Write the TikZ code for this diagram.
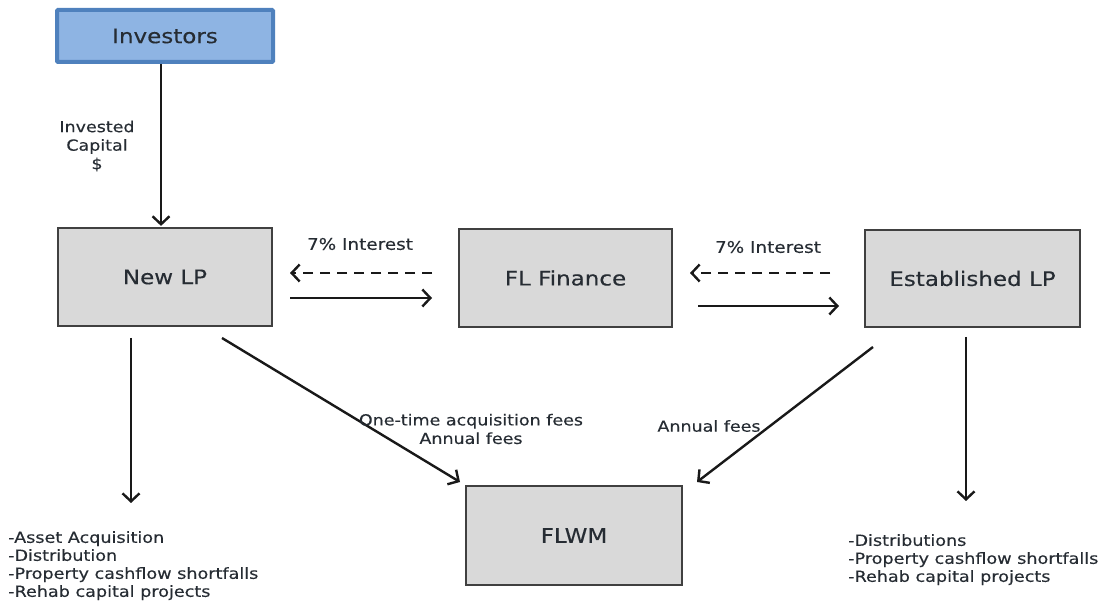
\documentclass[tikz,border=0pt]{standalone}
\usepackage{fontspec}
\setmainfont{DejaVu Sans}[FakeStretch=1.15,FakeBold=0.3]
\usetikzlibrary{arrows.meta}
\definecolor{txt}{HTML}{262C33}
\definecolor{boxfill}{HTML}{D9D9D9}
\definecolor{invfill}{HTML}{8EB4E3}
\definecolor{invdraw}{HTML}{4F81BD}
\begin{document}
\begin{tikzpicture}[x=1pt,y=-1pt,
 box/.style={draw=black!75, line width=1.2pt, fill=boxfill, inner sep=0pt, text=txt, font=\fontsize{20}{24}\selectfont},
 arr/.style={line width=2.4pt, draw=black!90, -{Straight Barb[length=8pt,width=17pt,line width=2.4pt]}},
 dasharr/.style={arr, dash pattern=on 10pt off 7pt},
 lbl/.style={text=txt, font=\fontsize{15.2}{18.5}\selectfont, align=center, inner sep=0pt},
 lst/.style={text=txt, font=\fontsize{15.3}{18}\selectfont, align=left, inner sep=0pt, anchor=north west}]
\useasboundingbox (0,0) rectangle (1101,601);
% boxes
\node[box, fill=invfill, draw=invdraw, line width=4pt, rounded corners=1pt, minimum width=216pt, minimum height=52pt] (inv) at (165,36) {Investors};
\node[box, minimum width=214pt, minimum height=98pt] (newlp) at (165,277) {New LP};
\node[box, minimum width=213pt, minimum height=98pt] (flf) at (565.5,278) {FL Finance};
\node[box, minimum width=215pt, minimum height=97pt] (elp) at (972.5,278.5) {Established LP};
\node[box, minimum width=216pt, minimum height=99pt] (flwm) at (574,535.5) {FLWM};
% free ends
\coordinate (a1) at (432,273); \coordinate (a2) at (290,273);
\coordinate (b1) at (290,298); \coordinate (b2) at (432,298);
\coordinate (c1) at (830,273); \coordinate (c2) at (690,273);
\coordinate (d1) at (698,306); \coordinate (d2) at (839,306);
\coordinate (e1) at (131,338); \coordinate (e2) at (131,503);
\coordinate (f1) at (222,338); \coordinate (f2) at (460,482);
\coordinate (g1) at (873,347); \coordinate (g2) at (697,482);
\coordinate (h1) at (966,337); \coordinate (h2) at (966,501);
% connectors
\draw[arr] ([xshift=-4pt]inv.south) -- ([xshift=-4pt,yshift=1.5pt]newlp.north);
\draw[dasharr] (a1) -- (a2);
\draw[arr] (b1) -- (b2);
\draw[dasharr] (c1) -- (c2);
\draw[arr] (d1) -- (d2);
\draw[arr] (e1) -- (e2);
\draw[arr] (f1) -- (f2);
\draw[arr] (g1) -- (g2);
\draw[arr] (h1) -- (h2);
% labels
\node[lbl] (l1) at (97,146) {Invested\\Capital\\\$};
\node[lbl, font=\fontsize{16}{18.5}\selectfont] (l2) at (360,244) {7\% Interest};
\node[lbl, font=\fontsize{16}{18.5}\selectfont] (l3) at (768,247) {7\% Interest};
\node[lbl] (l4) at (471,429) {One-time acquisition fees\\Annual fees};
\node[lbl] (l5) at (709,426) {Annual fees};
\node[lst] (l6) at (8,531) {-Asset Acquisition\\-Distribution\\-Property cashflow shortfalls\\-Rehab capital projects};
\node[lst] (l7) at (848,534) {-Distributions\\-Property cashflow shortfalls\\-Rehab capital projects};
\end{tikzpicture}
\end{document}
